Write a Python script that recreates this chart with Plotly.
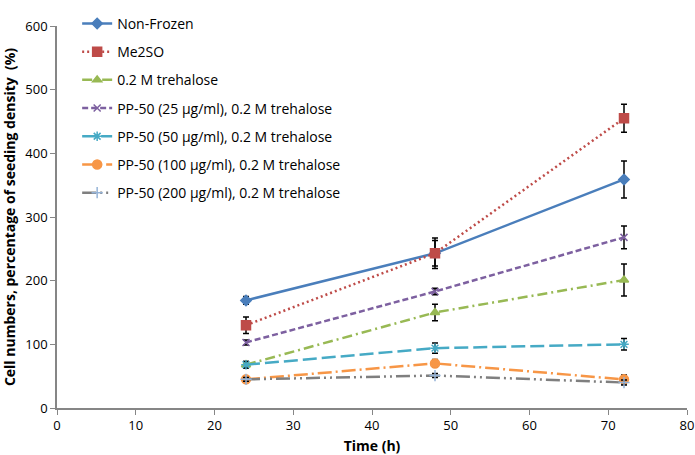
import plotly.graph_objects as go

time_h = [24, 48, 72]

series_names = [
    "Non-Frozen",
    "Me2SO",
    "0.2 M trehalose",
    "PP-50 (25 µg/ml), 0.2 M trehalose",
    "PP-50 (50 µg/ml), 0.2 M trehalose",
    "PP-50 (100 µg/ml), 0.2 M trehalose",
    "PP-50 (200 µg/ml), 0.2 M trehalose",
]

non_frozen = [169, 243, 359]
non_frozen_err = [6, 20, 29]
me2so = [130, 243, 455]
me2so_err = [13, 24, 22]
trehalose = [68, 150, 201]
trehalose_err = [5, 13, 25]
pp25 = [103, 183, 268]
pp25_err = [4, 5, 18]
pp50 = [68, 94, 100]
pp50_err = [5, 8, 9]
pp100 = [45, 70, 45]
pp100_err = [3, 6, 7]
pp200 = [45, 51, 40]
pp200_err = [3, 3, 4]

values = [non_frozen, me2so, trehalose, pp25, pp50, pp100, pp200]
errors = [non_frozen_err, me2so_err, trehalose_err, pp25_err, pp50_err, pp100_err, pp200_err]

line_colors = ["#4A7EBB", "#BE4B48", "#98B954", "#7D60A0", "#46AAC5", "#F79646", "#7F7F7F"]
marker_colors = ["#4A7EBB", "#BE4B48", "#98B954", "#7D60A0", "#46AAC5", "#F79646", "#95B3D7"]
dashes = ["solid", "2px,3px", "10px,4px,2px,4px", "6px,3px", "14px,5px",
          "14px,4px,2px,4px", "14px,4px,2px,4px,2px,4px"]
symbols = ["diamond", "square", "triangle-up", "x-thin", "asterisk-open", "circle", "cross-thin"]
sizes = [8, 9, 8, 7, 8, 9, 8]

fig = go.Figure()
for i, name in enumerate(series_names):
    fig.add_trace(go.Scatter(
        x=time_h, y=values[i], name=name, mode="lines+markers",
        legendgroup="g%d" % i,
        line=dict(color=line_colors[i], width=2.5, dash=dashes[i]),
        marker=dict(symbol=symbols[i], size=sizes[i], color=marker_colors[i],
                    line=dict(color=marker_colors[i], width=1.5)),
        error_y=dict(type="data", array=errors[i], visible=True,
                     color="black", thickness=1.5, width=3),
    ))

fig.update_layout(
    width=695, height=455,
    margin=dict(l=57, r=8, t=8, b=47),
    paper_bgcolor="white", plot_bgcolor="white",
    font=dict(family="Open Sans, Liberation Sans, sans-serif", size=13, color="black"),
    legend=dict(x=0.032, y=1.0475, xanchor="left", yanchor="top",
                bgcolor="rgba(0,0,0,0)", traceorder="grouped",
                tracegroupgap=7, font=dict(size=14)),
    xaxis=dict(range=[0, 80], dtick=10, showgrid=False, zeroline=False,
               showline=True, linecolor="#868686", linewidth=1.5, automargin=False,
               ticks="outside", ticklen=5, tickcolor="#868686",
               title=dict(text="<b>Time (h)</b>", font=dict(size=14), standoff=8)),
    yaxis=dict(range=[0, 600], dtick=100, showgrid=False, zeroline=False,
               showline=True, linecolor="#868686", linewidth=1.5, automargin=False,
               ticks="outside", ticklen=5, tickcolor="#868686",
               title=dict(text="<b>Cell numbers, percentage of seeding density  (%)</b>",
                          font=dict(size=14), standoff=8)),
)

fig.write_html("out.html", config={"displayModeBar": False},
               post_script="document.body.style.margin='0';")
